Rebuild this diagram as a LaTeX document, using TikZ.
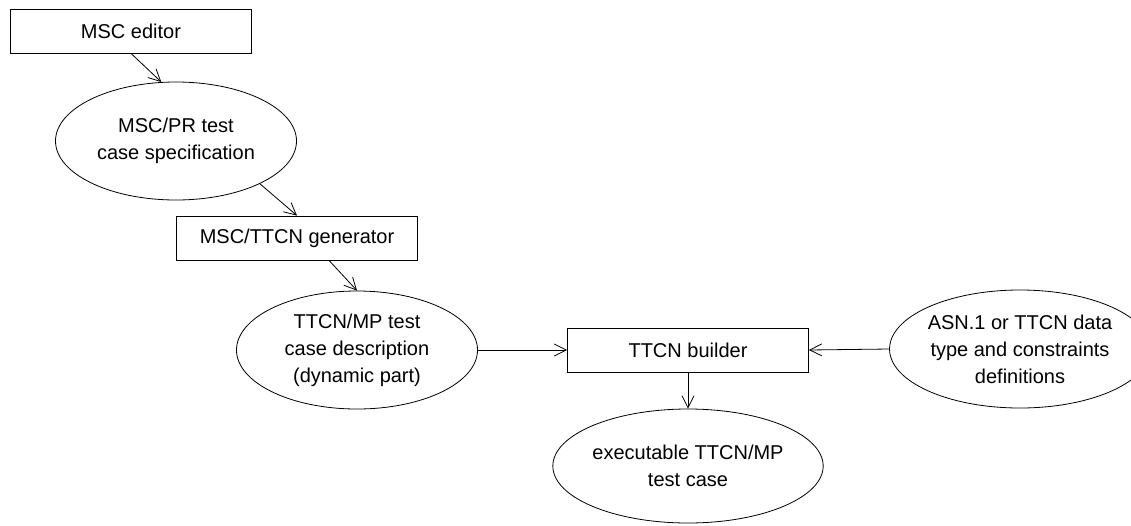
\documentclass[tikz,border=0pt]{standalone}
\usepackage{fontspec}
\setmainfont{Liberation Sans}
\usetikzlibrary{calc,shapes.geometric,arrows.meta}
\tikzset{
	% ------- every something
	every node/.style={
		font=\fontsize{20}{27}\selectfont,
	},
	% ------- custom
	flow/.style={
		-{Straight Barb[length=12pt,width=12pt]},
	},
	toolbox/.style={
		draw, rectangle, inner sep=0pt,
		minimum width=241pt, minimum height=44pt,
	},
	docellipse/.style={
		draw, ellipse, inner sep=0pt, align=center,
		minimum width=241pt, minimum height=118pt,
	},
}
\begin{document}
\begin{tikzpicture}[x=1pt,y=-1pt,line width=0.8pt]

% frame %{{{1

	\useasboundingbox (0,0) rectangle (1131,525);

% tools %{{{1

	\node[toolbox] (editor)  at (131,31)  {MSC editor};
	\node[toolbox] (gen)     at (297,238) {MSC/TTCN generator};
	\node[toolbox] (builder) at (688,350) {TTCN builder};

% documents %{{{1

	\node[docellipse] (spec)   at (176,141) {MSC/PR test\\case specification};
	\node[docellipse] (ttcnmp) at (357,350) {TTCN/MP test\\case description\\(dynamic part)};
	\node[docellipse, minimum height=114pt] (exec) at (688,466) {executable TTCN/MP\\test case};
	\node[docellipse] (asn)    at (1020,349) {ASN.1 or TTCN data\\type and constraints\\definitions};

% flows %{{{1

	\draw[flow] (editor.south) -- (spec.104);
	\draw[flow] (spec.-27) -- (gen.north);
	\draw[flow] (gen.-35) -- (ttcnmp.north);
	\draw[flow] (ttcnmp.east) -- (builder.west);
	\draw[flow] (asn.west) -- (builder.east);
	\draw[flow] (builder.south) -- (exec.north);

% closing %{{{1

\end{tikzpicture}
\end{document}
